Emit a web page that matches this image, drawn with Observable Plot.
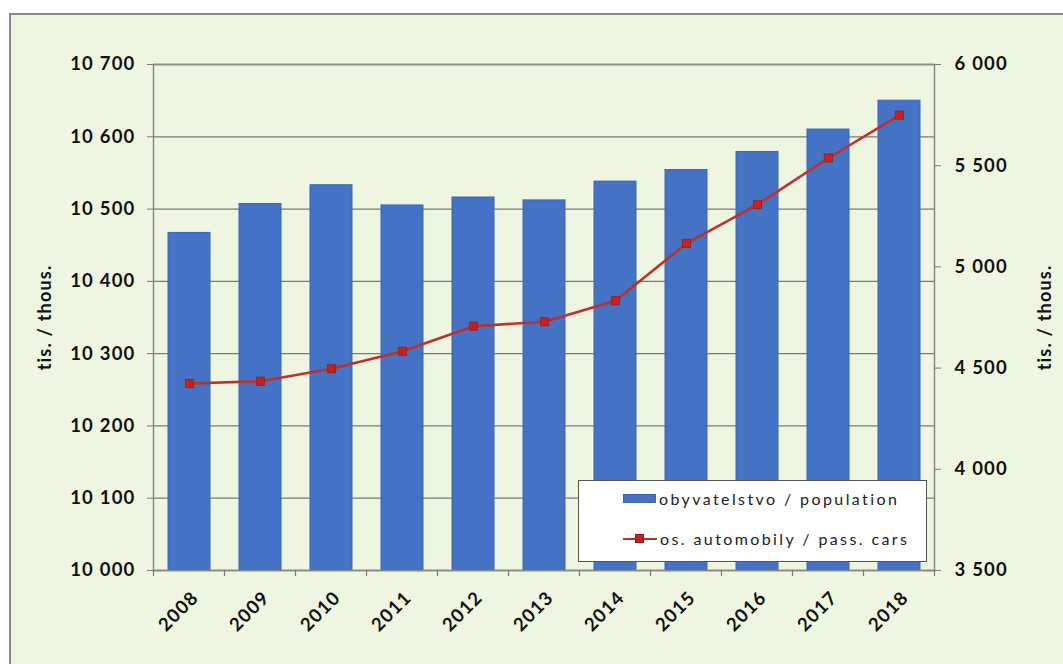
<!DOCTYPE html>
<html>
<head>
<meta charset="utf-8">
<script src="https://cdn.jsdelivr.net/npm/d3@7"></script>
<script src="https://cdn.jsdelivr.net/npm/@observablehq/plot@0.6"></script>
<style>
  html, body { margin: 0; padding: 0; background: #ffffff; }
  #wrap { position: relative; width: 1063px; height: 664px; overflow: hidden; font-family: Lato, "Open Sans", sans-serif; }
  #frame { position: absolute; left: 9px; top: 13px; width: 1070px; height: 670px; background: #eef5e0; border-top: 2px solid #8a8a80; border-left: 2px solid #8a8a80; }
  #chart { position: absolute; left: 0; top: 0; }
  #chart svg text { letter-spacing: 1.2px; }
  #legend { position: absolute; left: 578px; top: 480px; width: 349px; height: 82px; background: #ffffff; border: 1.5px solid #555; box-sizing: border-box; font-size: 16px; color: #222; }
  .item { position: absolute; left: 44px; display: flex; align-items: center; letter-spacing: 2.4px; white-space: nowrap; }
  .sw { width: 33px; height: 9px; background: #4472c4; margin-right: 3px; border: 1px solid #3b64b0; box-sizing: border-box; }
  .ln { position: relative; width: 34px; height: 10px; margin-right: 3px; }
  .ln::before { content: ""; position: absolute; left: 0; right: 0; top: 4px; height: 2.5px; background: #c0302b; }
  .ln::after { content: ""; position: absolute; left: 12px; top: 0; width: 9px; height: 9px; background: #c8211c; border: 1px solid #9c1a16; box-sizing: border-box; }
</style>
</head>
<body>
<div id="wrap">
  <div id="frame"></div>
  <div id="chart"></div>
  <div id="legend">
    <div class="item" style="top:8px"><span class="sw"></span><span>obyvatelstvo / population</span></div>
    <div class="item" style="top:48px"><span class="ln"></span><span>os. automobily / pass. cars</span></div>
  </div>
</div>
<script>
// Data
const years = ["2008","2009","2010","2011","2012","2013","2014","2015","2016","2017","2018"];
const population = [10467, 10507, 10533, 10505, 10516, 10512, 10538, 10554, 10579, 10610, 10650];
const cars = [4424, 4435, 4497, 4583, 4707, 4729, 4833, 5116, 5308, 5538, 5750];
const leftTicks = [10000, 10100, 10200, 10300, 10400, 10500, 10600, 10700];
const rightTicks = [3500, 4000, 4500, 5000, 5500, 6000];
const axisTitle = "tis. / thous.";

const leftDomain = [10000, 10700];
const rightDomain = [3500, 6000];
const k = (leftDomain[1] - leftDomain[0]) / (rightDomain[1] - rightDomain[0]);
const toLeft = v => leftDomain[0] + (v - rightDomain[0]) * k;
const toRight = v => Math.round(rightDomain[0] + (v - leftDomain[0]) / k);
const fmt = v => d3.format(",")(v).replace(/,/g, " ");

const data = years.map((y, i) => ({year: y, pop: population[i], cars: cars[i], carsL: toLeft(cars[i])}));

const boundaryTicks = (index, scales, values, dims) => {
  const g = d3.create("svg:g");
  const x = scales.x;
  const bw = typeof x.bandwidth === "function" ? x.bandwidth() : x.bandwidth;
  const step = x(years[1]) - x(years[0]);
  const gap = (step - bw) / 2;
  const y0 = scales.y(leftDomain[0]);
  const pos = years.map(y => x(y) - gap);
  pos.push(x(years[years.length - 1]) + bw + gap);
  for (const p of pos) {
    if (!isFinite(p)) continue;
    g.append("line").attr("x1", p).attr("x2", p).attr("y1", y0).attr("y2", y0 + 6)
      .attr("stroke", "#777").attr("stroke-width", 1.2);
  }
  return g.node();
};

const chart = Plot.plot({
  width: 1063,
  height: 664,
  marginLeft: 153,
  marginRight: 129,
  marginTop: 64,
  marginBottom: 94,
  style: {background: "transparent", fontFamily: "Lato, 'Open Sans', sans-serif"},
  x: {type: "band", domain: years, paddingInner: 0.41, paddingOuter: 0.205, axis: null},
  y: {domain: leftDomain, axis: null},
  marks: [
    Plot.ruleY(leftTicks, {stroke: "#7a7a7a", strokeWidth: 1.3}),
    Plot.barY(data, {x: "year", y1: leftDomain[0], y2: "pop", fill: "#4472c4", stroke: "#3c66b8", strokeWidth: 1}),
    Plot.frame({stroke: "#8a8a80", strokeWidth: 1.5}),
    Plot.line(data, {x: "year", y: "carsL", stroke: "#c0302b", strokeWidth: 2.6}),
    Plot.dot(data, {x: "year", y: "carsL", symbol: "square", r: 4.6, fill: "#c8211c", stroke: "#9c1a16", strokeWidth: 0.8}),
    Plot.axisY({anchor: "left", ticks: leftTicks, tickFormat: fmt, tickSize: 6, tickPadding: 12, stroke: "#777",
      fontSize: 18.5, fontWeight: "bold", fill: "#111", label: null}),
    Plot.axisY({anchor: "right", ticks: rightTicks.map(toLeft), tickFormat: d => fmt(toRight(d)), tickSize: 6, tickPadding: 14, stroke: "#777",
      fontSize: 18.5, fontWeight: "bold", fill: "#111", label: null}),
    Plot.axisX({tickSize: 0, tickRotate: -45, tickPadding: 8, fontSize: 18.5, fontWeight: "bold", fill: "#111", label: null, dx: 6, dy: 16}),
    boundaryTicks,
    Plot.text([axisTitle], {frameAnchor: "left", dx: -108, rotate: -90, textAnchor: "middle", fontSize: 18, fontWeight: "bold", fill: "#111"}),
    Plot.text([axisTitle], {frameAnchor: "right", dx: 111, rotate: -90, textAnchor: "middle", fontSize: 18, fontWeight: "bold", fill: "#111"})
  ]
});
document.getElementById("chart").appendChild(chart);
</script>
</body>
</html>
